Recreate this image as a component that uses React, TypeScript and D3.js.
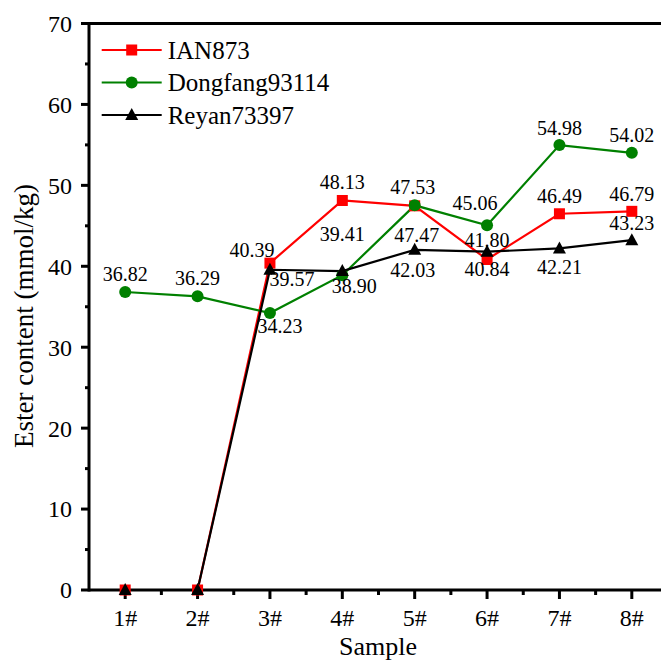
import * as d3 from "d3";

const WIDTH = 661;
const HEIGHT = 661;
const MARGIN = { top: 23.5, right: -7, bottom: 71, left: 89 };

const samples = ["1#", "2#", "3#", "4#", "5#", "6#", "7#", "8#"];
const yTicks = [0, 10, 20, 30, 40, 50, 60, 70];

const ianValues = [0, 0, 40.39, 48.13, 47.47, 40.84, 46.49, 46.79];
const dongfangValues = [36.82, 36.29, 34.23, 38.9, 47.53, 45.06, 54.98, 54.02];
const reyanValues = [0, 0, 39.57, 39.41, 42.03, 41.8, 42.21, 43.23];

// label offsets [dx, dy] from each point, null = no label
const ianLabelPos = [null, null, [-18, -6], [0, -11], [2, 36], [0, 17], [0, -11], [0, -10]];
const dongfangLabelPos = [[0, -11], [0, -11], [10, 20], [12, 18], [-2, -11], [-12, -15], [0, -10], [0, -11]];
const reyanLabelPos = [null, null, [22, 16], [0, -30], [-2, 27], [0, -5], [0, 26], [0, -10]];

const FONT = "'Liberation Serif', 'Times New Roman', serif";

type Series = {
  name: string;
  color: string;
  marker: "square" | "circle" | "triangle";
  values: number[];
  labels: (number[] | null)[];
};

const series: Series[] = [
  { name: "IAN873", color: "#ff0000", marker: "square", values: ianValues, labels: ianLabelPos },
  { name: "Dongfang93114", color: "#008000", marker: "circle", values: dongfangValues, labels: dongfangLabelPos },
  { name: "Reyan73397", color: "#000000", marker: "triangle", values: reyanValues, labels: reyanLabelPos },
];

const Marker = ({ type, x, y, color }: { type: string; x: number; y: number; color: string }) => {
  if (type === "square") {
    return <rect x={x - 5.5} y={y - 5.5} width={11} height={11} fill={color} />;
  }
  if (type === "circle") {
    return <circle cx={x} cy={y} r={6} fill={color} />;
  }
  return <path d={`M${x},${y - 7}L${x + 6.5},${y + 5}L${x - 6.5},${y + 5}Z`} fill={color} />;
};

export default function App() {
  const boundsWidth = WIDTH - MARGIN.left - MARGIN.right;
  const boundsHeight = HEIGHT - MARGIN.top - MARGIN.bottom;

  const xScale = d3.scaleLinear().domain([0.5, 8.5]).range([0, boundsWidth]);
  const yScale = d3.scaleLinear().domain([0, 70]).range([boundsHeight, 0]);

  const line = d3
    .line<number>()
    .x((_, i) => xScale(i + 1))
    .y((d) => yScale(d));

  const minorY = d3.range(5, 70, 10);
  const minorX = d3.range(1.5, 8.5, 1);

  return (
    <svg width={WIDTH} height={HEIGHT} style={{ position: "absolute", left: 0, top: 0, background: "#fff" }}>
      <g transform={`translate(${MARGIN.left},${MARGIN.top})`} fontFamily={FONT}>
        {/* series lines */}
        {series.map((s) => (
          <path key={s.name} d={line(s.values) || ""} fill="none" stroke={s.color} strokeWidth={2.2} />
        ))}

        {/* axes */}
        <line x1={0} x2={boundsWidth} y1={0} y2={0} stroke="#000" strokeWidth={3} />
        <line x1={0} x2={boundsWidth} y1={boundsHeight} y2={boundsHeight} stroke="#000" strokeWidth={3} />
        <line x1={0} x2={0} y1={-1.5} y2={boundsHeight + 1.5} stroke="#000" strokeWidth={3} />

        {yTicks.map((t) => (
          <g key={t} transform={`translate(0,${yScale(t)})`}>
            <line x1={-8} x2={0} stroke="#000" strokeWidth={3} />
            <text x={-17} dy="0.35em" textAnchor="end" fontSize={24}>
              {t}
            </text>
          </g>
        ))}
        {minorY.map((t) => (
          <line key={t} x1={-4} x2={0} y1={yScale(t)} y2={yScale(t)} stroke="#000" strokeWidth={3} />
        ))}

        {samples.map((s, i) => (
          <g key={s} transform={`translate(${xScale(i + 1)},${boundsHeight})`}>
            <line y1={0} y2={9} stroke="#000" strokeWidth={3} />
            <text y={36} textAnchor="middle" fontSize={24}>
              {s}
            </text>
          </g>
        ))}
        {minorX.map((t) => (
          <line key={t} x1={xScale(t)} x2={xScale(t)} y1={boundsHeight} y2={boundsHeight + 5} stroke="#000" strokeWidth={3} />
        ))}

        {/* markers */}
        {series.map((s) =>
          s.values.map((v, i) => (
            <Marker key={s.name + i} type={s.marker} x={xScale(i + 1)} y={yScale(v)} color={s.color} />
          ))
        )}

        {/* data labels */}
        {series.map((s) =>
          s.values.map((v, i) => {
            const off = s.labels[i];
            if (!off) return null;
            return (
              <text
                key={s.name + "l" + i}
                x={xScale(i + 1) + off[0]}
                y={yScale(v) + off[1]}
                textAnchor="middle"
                fontSize={20}
                fill="#000"
              >
                {v.toFixed(2)}
              </text>
            );
          })
        )}

        {/* axis titles */}
        <text x={289} y={boundsHeight + 65} textAnchor="middle" fontSize={26}>
          Sample
        </text>
        <text transform={`translate(${-56},${292.5}) rotate(-90)`} textAnchor="middle" fontSize={27}>
          Ester content (mmol/kg)
        </text>

        {/* legend */}
        {series.map((s, i) => {
          const ly = 26.5 + i * 32.5;
          return (
            <g key={s.name} transform={`translate(12.7,${ly})`}>
              <line x1={0} x2={60} stroke={s.color} strokeWidth={2.2} />
              <Marker type={s.marker} x={30} y={0} color={s.color} />
              <text x={66} dy="0.35em" fontSize={25}>
                {s.name}
              </text>
            </g>
          );
        })}
      </g>
    </svg>
  );
}
